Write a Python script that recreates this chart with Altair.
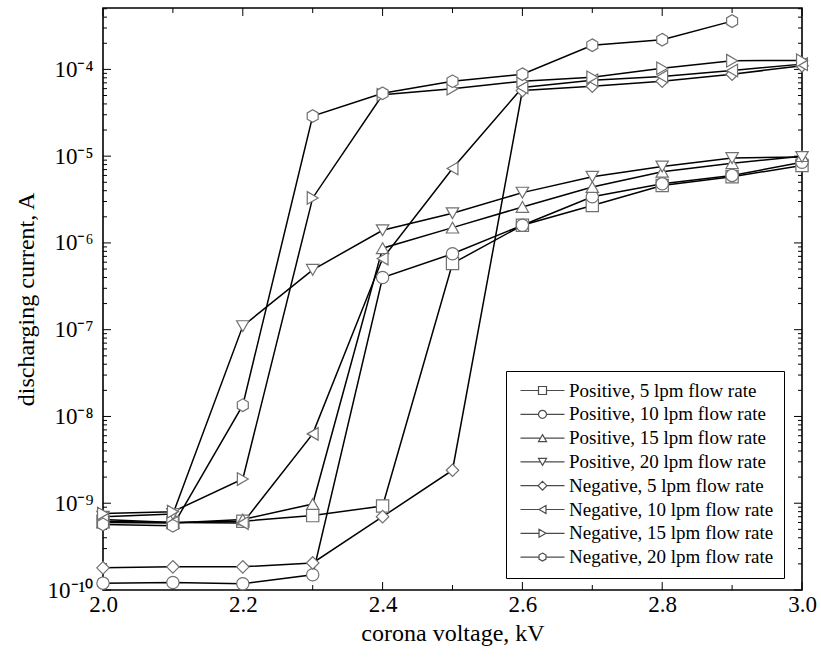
import altair as alt
import pandas as pd

# ---------------- data ----------------
voltage = [2.0, 2.1, 2.2, 2.3, 2.4, 2.5, 2.6, 2.7, 2.8, 2.9, 3.0]

series_names = [
    "Positive, 5 lpm flow rate",
    "Positive, 10 lpm flow rate",
    "Positive, 15 lpm flow rate",
    "Positive, 20 lpm flow rate",
    "Negative, 5 lpm flow rate",
    "Negative, 10 lpm flow rate",
    "Negative, 15 lpm flow rate",
    "Negative, 20 lpm flow rate",
]

pos5 = [6.2e-10, 6.0e-10, 6.2e-10, 7.2e-10, 9.3e-10, 5.8e-7, 1.6e-6, 2.7e-6, 4.6e-6, 5.8e-6, 7.8e-6]
pos10 = [1.2e-10, 1.22e-10, 1.18e-10, 1.5e-10, 4.0e-7, 7.5e-7, 1.6e-6, 3.4e-6, 4.8e-6, 6.0e-6, 8.5e-6]
pos15 = [6.0e-10, 5.9e-10, 6.5e-10, 9.8e-10, 8.7e-7, 1.5e-6, 2.6e-6, 4.4e-6, 6.6e-6, 8.3e-6, 1.0e-5]
pos20 = [7.0e-10, 7.5e-10, 1.1e-7, 4.9e-7, 1.4e-6, 2.2e-6, 3.8e-6, 5.8e-6, 7.6e-6, 9.5e-6, 9.8e-6]
neg5 = [1.8e-10, 1.85e-10, 1.85e-10, 2.05e-10, 7.0e-10, 2.4e-9, 5.7e-5, 6.4e-5, 7.3e-5, 8.8e-5, 1.1e-4]
neg10 = [6.5e-10, 6.0e-10, 5.9e-10, 6.3e-9, 6.6e-7, 7.2e-6, 6.2e-5, 7.5e-5, 8.3e-5, 9.7e-5, 1.15e-4]
neg15 = [7.6e-10, 8.0e-10, 1.9e-9, 3.3e-6, 5.1e-5, 6.0e-5, 7.3e-5, 8.1e-5, 1.03e-4, 1.26e-4, 1.27e-4]
neg20 = [5.7e-10, 5.5e-10, 1.35e-8, 2.9e-5, 5.3e-5, 7.3e-5, 8.8e-5, 1.9e-4, 2.2e-4, 3.6e-4, None]

all_series = [pos5, pos10, pos15, pos20, neg5, neg10, neg15, neg20]

x_domain = [2.0, 3.0]
y_domain = [1e-10, 5.1e-4]
x_label_ticks = [2.0, 2.2, 2.4, 2.6, 2.8, 3.0]
x_minor_ticks = [2.1, 2.3, 2.5, 2.7, 2.9]
y_decades = [1e-10, 1e-9, 1e-8, 1e-7, 1e-6, 1e-5, 1e-4]
y_minor_ticks = [m * d for d in y_decades for m in range(2, 10) if m * d <= y_domain[1]]
y_label_text = ["10⁻¹⁰", "10⁻⁹", "10⁻⁸", "10⁻⁷", "10⁻⁶", "10⁻⁵", "10⁻⁴"]

rows = []
for name, vals in zip(series_names, all_series):
    for xv, yv in zip(voltage, vals):
        if yv is not None:
            rows.append({"series": name, "voltage": xv, "current": yv})
df = pd.DataFrame(rows)

# ---------------- styling ----------------
W, H = 699, 582
FONT = "Liberation Serif"

HEX = "M0,-1L0.866,-0.5L0.866,0.5L0,1L-0.866,0.5L-0.866,-0.5Z"
marker_shapes = ["square", "circle", "triangle-up", "triangle-down",
                 "diamond", "triangle-left", "triangle-right", HEX]
marker_sizes = [150, 160, 280, 280, 240, 280, 280, 200]

# legend symbols: line through an open marker
shape_paths = [
    ("M-1,-1H1V1H-1Z", 1.0),
    ("M1,0A1,1 0 1,1 -1,0A1,1 0 1,1 1,0Z", 1.0),
    ("M0,-0.866L1,0.866L-1,0.866Z", 0.5),
    ("M0,0.866L1,-0.866L-1,-0.866Z", 0.5),
    ("M0,-1.1L1.1,0L0,1.1L-1.1,0Z", 1.1),
    ("M-0.866,0L0.866,-1L0.866,1Z", 0.866),
    ("M0.866,0L-0.866,-1L-0.866,1Z", 0.866),
    ("M0,-1L0.866,-0.5L0.866,0.5L0,1L-0.866,0.5L-0.866,-0.5Z", 0.866),
]
L = 5.5
legend_paths = [f"M{-L},0H{-g}M{g},0H{L}" + p for p, g in shape_paths]

xscale = alt.Scale(domain=x_domain, nice=False, zero=False)
yscale = alt.Scale(type="log", domain=y_domain, nice=False)

label_expr = " : ".join(
    f"datum.value < {d * 3:.3e} ? '{t}'" for d, t in zip(y_decades[:-1], y_label_text[:-1])
) + f" : '{y_label_text[-1]}'"

x_axis = alt.Axis(values=x_label_ticks, format=".1f", ticks=False, domain=False, grid=False,
                  labelFlush=False, labelFont=FONT, labelFontSize=23, labelPadding=3,
                  labelColor="black",
                  title="corona voltage, kV", titleFont=FONT, titleFontSize=24,
                  titleFontWeight="normal", titleColor="black", titlePadding=5)
y_axis = alt.Axis(values=y_decades, labelExpr=label_expr, ticks=False, domain=False, grid=False,
                  labelFlush=False, labelFont=FONT, labelFontSize=23, labelPadding=10,
                  labelColor="black",
                  title="discharging current, A", titleFont=FONT, titleFontSize=24,
                  titleFontWeight="normal", titleColor="black", titlePadding=9)

lines = alt.Chart(df).mark_line(color="black", strokeWidth=1.5).encode(
    x=alt.X("voltage:Q", scale=xscale, axis=x_axis),
    y=alt.Y("current:Q", scale=yscale, axis=y_axis),
    detail="series:N",
)

points = alt.Chart(df).mark_point(filled=False, fill="white", fillOpacity=1,
                                  stroke="#707070", strokeWidth=1.2, opacity=1).encode(
    x=alt.X("voltage:Q", scale=xscale, axis=x_axis),
    y=alt.Y("current:Q", scale=yscale, axis=y_axis),
    shape=alt.Shape("series:N", scale=alt.Scale(domain=series_names, range=marker_shapes), legend=None),
    size=alt.Size("series:N", scale=alt.Scale(domain=series_names, range=marker_sizes), legend=None),
)

legend_layer = alt.Chart(df).transform_filter("false").mark_point(filled=False).encode(
    shape=alt.Shape(
        "series:N",
        scale=alt.Scale(domain=series_names, range=legend_paths),
        legend=alt.Legend(
            title=None, orient="none", legendX=403, legendY=363,
            symbolSize=64, symbolStrokeColor="black", symbolFillColor="white",
            symbolStrokeWidth=1.2, symbolOffset=17, labelOffset=17,
            labelFont=FONT, labelFontSize=19, labelColor="black", labelLimit=400,
            padding=10, rowPadding=3.8, strokeColor="black", fillColor="white",
        ),
    ),
)

def yrule(vals, x0, x1):
    return alt.Chart(pd.DataFrame({"current": vals})).mark_rule(color="black", strokeWidth=1).encode(
        y=alt.Y("current:Q", scale=yscale, axis=y_axis), x=alt.value(x0), x2=alt.value(x1))

def xrule(vals, y0, y1):
    return alt.Chart(pd.DataFrame({"voltage": vals})).mark_rule(color="black", strokeWidth=1).encode(
        x=alt.X("voltage:Q", scale=xscale, axis=x_axis), y=alt.value(y0), y2=alt.value(y1))

ticks = [
    yrule(y_decades, 0, 8), yrule(y_minor_ticks, 0, 4),
    yrule(y_decades, W, W - 8), yrule(y_minor_ticks, W, W - 4),
    xrule(x_label_ticks, H, H - 8), xrule(x_minor_ticks, H, H - 5),
    xrule(x_label_ticks, 0, 8), xrule(x_minor_ticks, 0, 5),
]

chart = alt.layer(*ticks, lines, points, legend_layer).resolve_scale(
    shape="independent", size="independent"
).properties(
    width=W, height=H,
    padding={"left": 103, "top": 8, "right": 19, "bottom": 74},
    autosize=alt.AutoSizeParams(type="none"),
).configure(
    background="white",
    view=alt.ViewConfig(stroke="black", strokeWidth=1.6),
)

chart.save("out.html", embed_options={"renderer": "svg", "actions": False})
